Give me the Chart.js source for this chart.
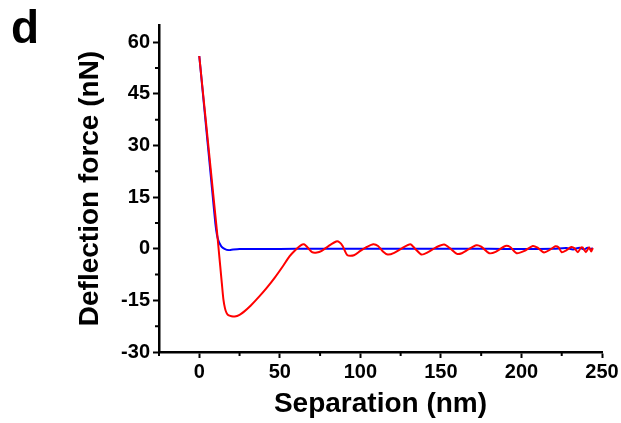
<!DOCTYPE html>
<html>
<head>
<meta charset="utf-8">
<script src="https://cdn.jsdelivr.net/npm/chart.js@4"></script>
<style>
  html, body { margin: 0; padding: 0; background: #fff; }
  #wrap { width: 621px; height: 423px; position: relative; }
</style>
</head>
<body>
<div id="wrap"><canvas id="chart"></canvas></div>
<script>
// ----- Data -----
const redX = [0, 2, 4, 6, 8, 10, 11, 12, 13, 14, 15, 16, 17, 18, 20, 22, 25, 28, 32, 37, 42, 47, 52, 56, 60, 63, 65, 67, 70, 73, 76, 80, 85, 87, 89, 92, 96, 100, 104, 108, 111, 114, 117, 121, 126, 131, 134, 138, 142, 147, 152, 156, 160, 163, 167, 172, 175, 180, 184, 190, 193, 197, 202, 207, 210, 214, 218, 221, 223, 225, 228, 231, 233, 235, 237, 238, 240, 242, 243.3, 244.3];
const redY = [56, 46.7, 37.5, 28.2, 18.9, 9.6, 5, 0, -5, -10, -14.8, -17.4, -18.7, -19.3, -19.6, -19.7, -19.2, -18.2, -16.5, -14, -11.3, -8.3, -5, -2.2, -0.2, 1, 1.3, 0.5, -1, -1.1, -0.6, 0.7, 2.1, 1.9, 0.8, -1.9, -1.9, -0.6, 0.5, 1.3, 0.8, -0.8, -1.7, -1.2, 0.2, 1.3, 0, -1.7, -1, 0.4, 1.2, 0, -1.5, -1.3, -0.2, 1.0, 0.6, -1.3, -0.9, 0.8, 0.5, -1.3, -0.6, 0.8, 0.3, -1.1, -0.2, 0.7, 0.4, -1.0, -0.4, 0.5, 0.1, -1.0, 0.4, 0.4, -1, 0.4, -0.8, 0.2];

const blueX = [0, 2, 4, 6, 8, 10, 11, 12, 13, 14, 16, 18, 20, 25, 30, 40, 60, 80, 100, 120, 140, 160, 180, 200, 220, 228, 232, 236, 239, 241, 243, 244.3];
const blueY = [56, 46.3, 36.5, 26.8, 17, 7.3, 4, 2.2, 1.2, 0.5, -0.1, -0.4, -0.3, -0.1, -0.1, -0.1, 0, 0, 0, 0, 0, 0, 0, -0.1, 0, 0.2, -0.2, 0.3, -0.2, 0.3, -0.1, 0.2];

const xTicks = [0, 50, 100, 150, 200, 250];
const xMinorTicks = [-25, 25, 75, 125, 175, 225];
const yTicks = [-30, -15, 0, 15, 30, 45, 60];
const yMinorTicks = [-22.5, -7.5, 7.5, 22.5, 37.5, 52.5];

const toPoints = (xs, ys) => xs.map((x, i) => ({ x, y: ys[i] }));

const FONT = "'Liberation Sans', Arial, sans-serif";

// minor ticks + panel letter
const extras = {
  id: "extras",
  afterDraw(chart) {
    const { ctx } = chart;
    const xs = chart.scales.x, ys = chart.scales.y;
    ctx.save();
    ctx.strokeStyle = "#000";
    ctx.lineWidth = 2;
    ctx.beginPath();
    for (const v of xMinorTicks) {
      const px = xs.getPixelForValue(v);
      ctx.moveTo(px, xs.top); ctx.lineTo(px, xs.top + 4);
    }
    for (const v of yMinorTicks) {
      const py = ys.getPixelForValue(v);
      ctx.moveTo(ys.right, py); ctx.lineTo(ys.right - 4, py);
    }
    ctx.stroke();
    ctx.fillStyle = "#000";
    ctx.font = `bold 46px ${FONT}`;
    ctx.textBaseline = "alphabetic";
    ctx.fillText("d", 11, 43);
    ctx.restore();
  }
};

new Chart(document.getElementById("chart"), {
  type: "line",
  data: {
    datasets: [
      { data: toPoints(redX, redY), borderColor: "#ff0000", borderWidth: 2, pointRadius: 0, tension: 0.25, fill: false },
      { data: toPoints(blueX, blueY), borderColor: "#0000ff", borderWidth: 2, pointRadius: 0, tension: 0.25, fill: false },
    ],
  },
  options: {
    responsive: true,
    maintainAspectRatio: false,
    animation: false,
    layout: { padding: { left: 66, right: 19, top: 25, bottom: 2 } },
    plugins: { legend: { display: false }, tooltip: { enabled: false } },
    scales: {
      x: {
        type: "linear",
        min: -25, max: 250,
        afterBuildTicks: (s) => { s.ticks = xTicks.map(v => ({ value: v })); },
        afterFit: (s) => { s.height = 69; },
        border: { display: true, color: "#000", width: 2.5 },
        grid: { drawOnChartArea: false, drawTicks: true, tickLength: 6, tickColor: "#000", tickWidth: 2 },
        ticks: { color: "#000", font: { family: FONT, size: 20, weight: "bold" }, padding: 2, maxRotation: 0 },
        title: { display: true, text: "Separation (nm)", color: "#000",
                 font: { family: FONT, size: 28, weight: "bold" }, padding: { top: 0, bottom: 0 } },
      },
      y: {
        type: "linear",
        min: -30, max: 65,
        afterBuildTicks: (s) => { s.ticks = yTicks.map(v => ({ value: v })); },
        afterFit: (s) => { s.width = 93; },
        border: { display: true, color: "#000", width: 2.5 },
        grid: { drawOnChartArea: false, drawTicks: true, tickLength: 6, tickColor: "#000", tickWidth: 2 },
        ticks: { color: "#000", font: { family: FONT, size: 20, weight: "bold" }, padding: 3 },
        title: { display: true, text: "Deflection force (nN)", color: "#000",
                 font: { family: FONT, size: 28, weight: "bold" }, padding: { top: 7, bottom: 0 } },
      },
    },
  },
  plugins: [extras],
});
</script>
</body>
</html>
